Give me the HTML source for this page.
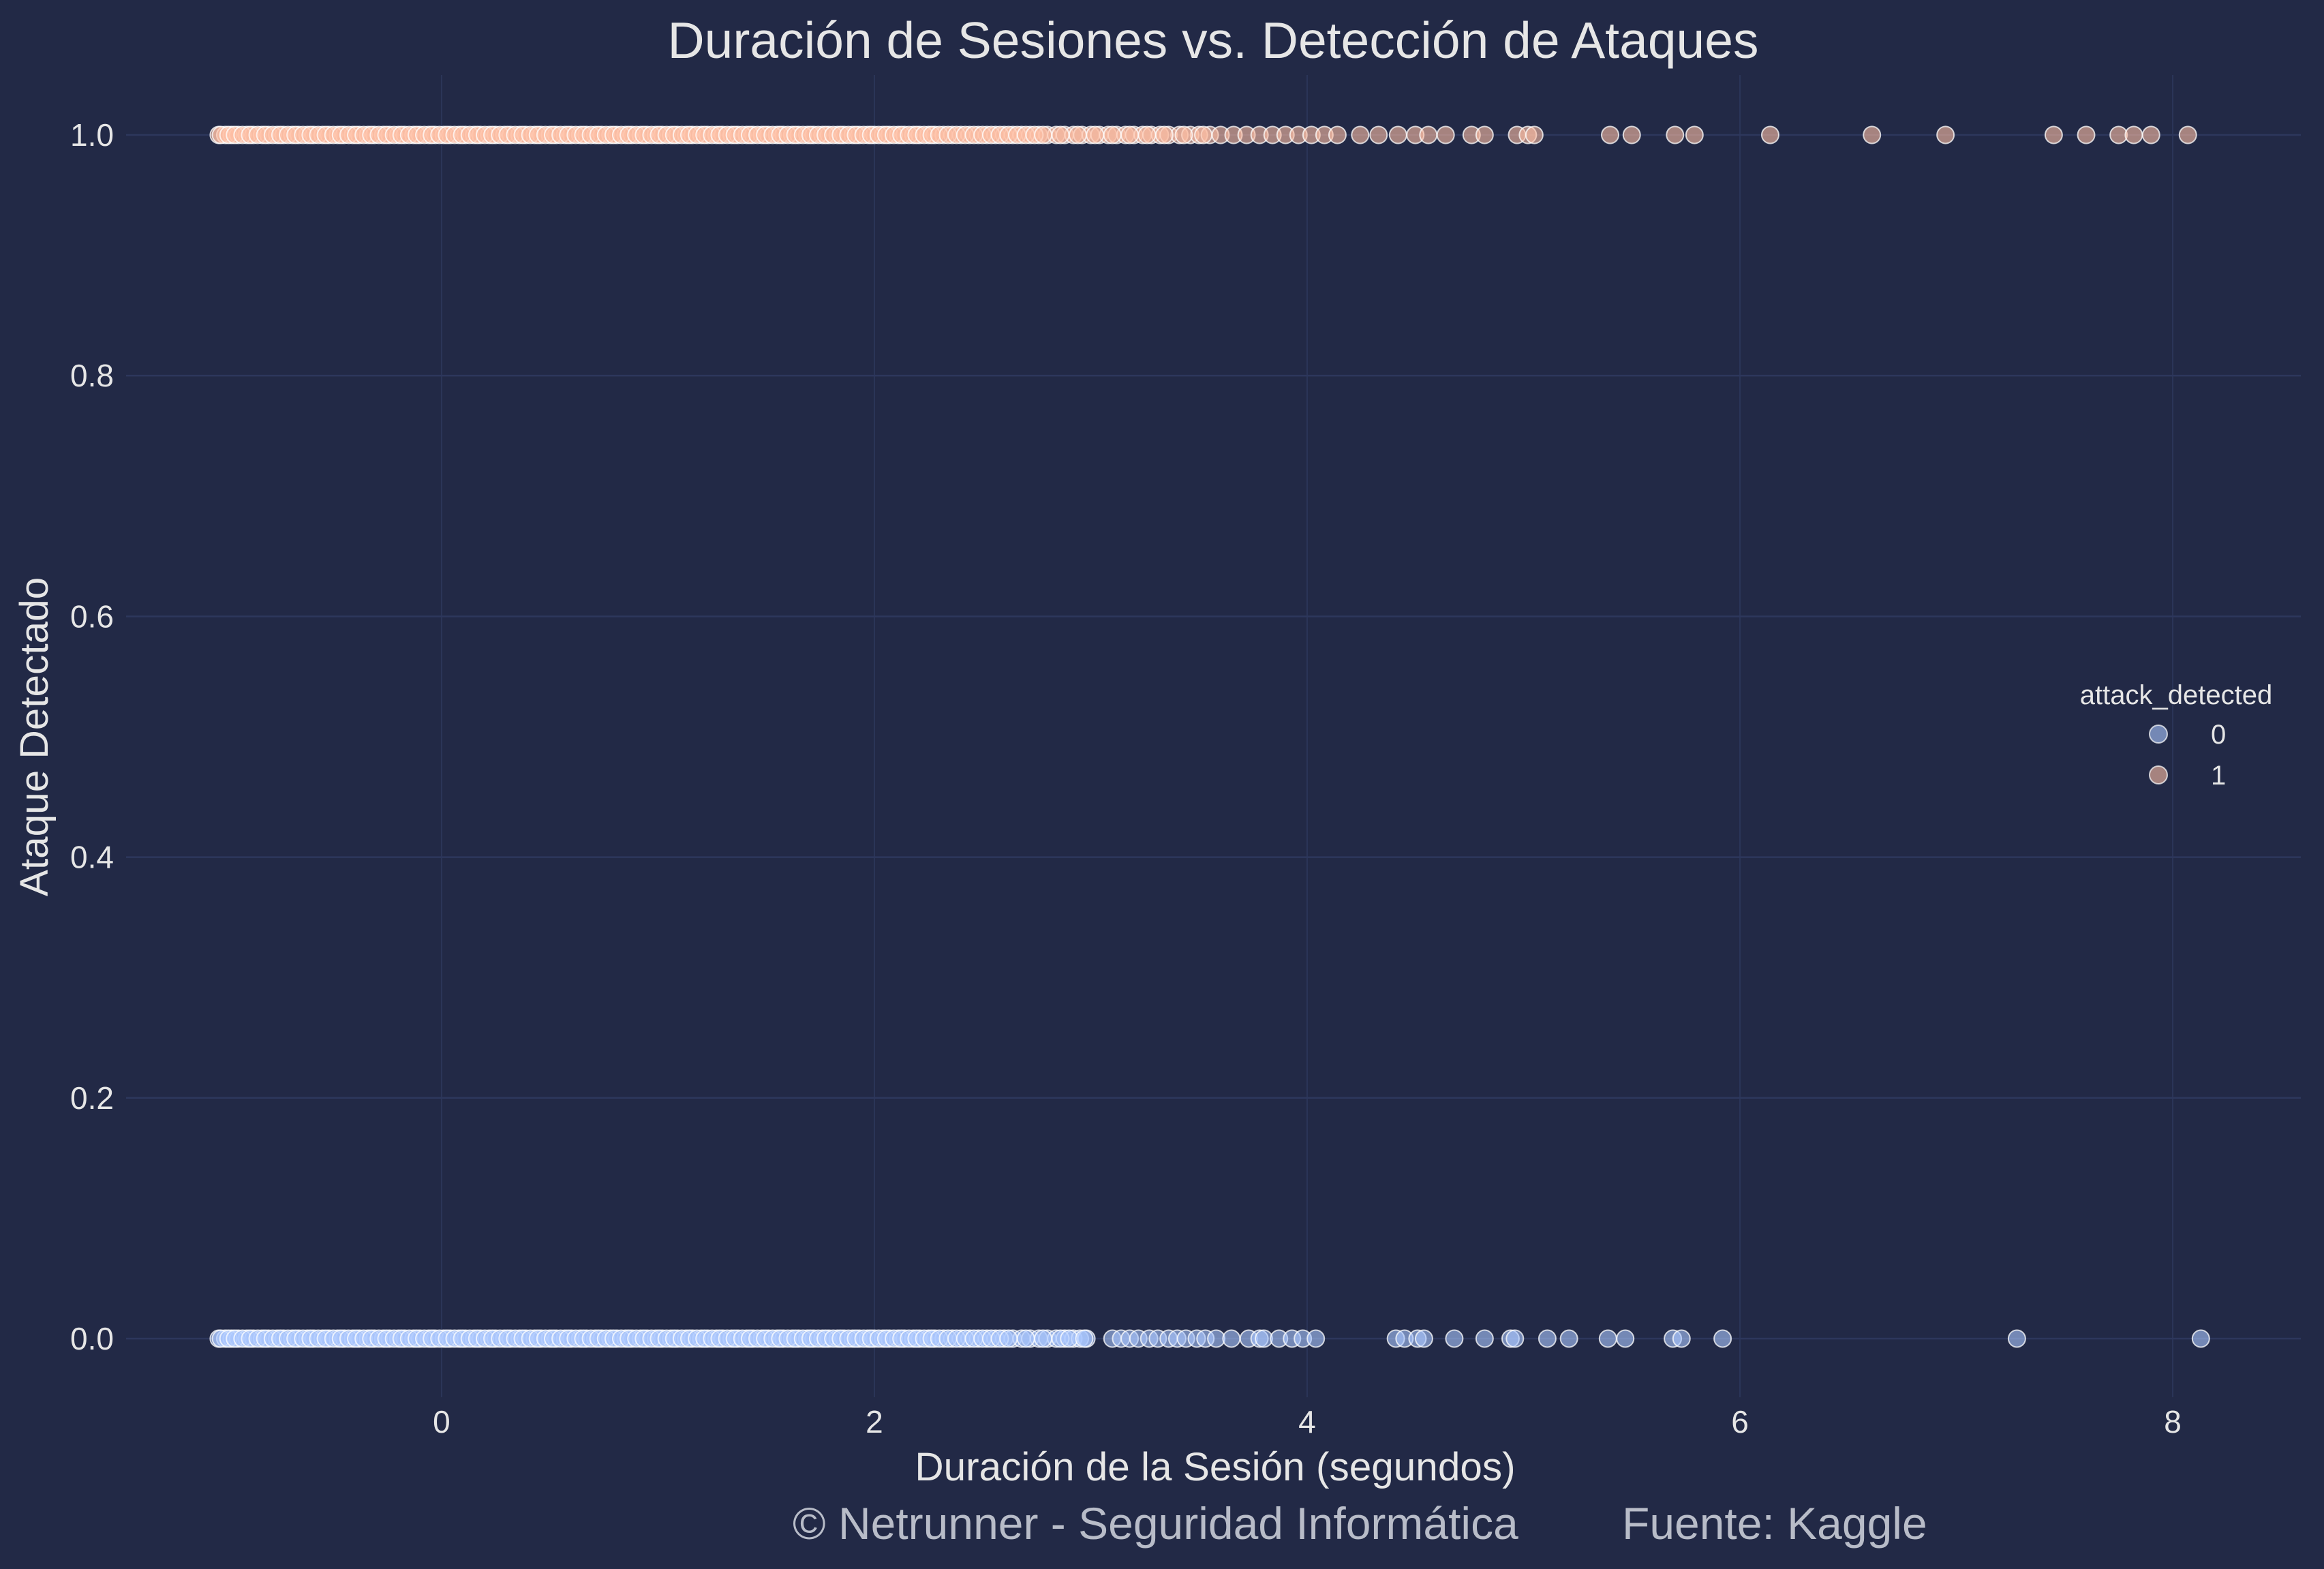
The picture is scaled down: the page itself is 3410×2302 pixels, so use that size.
<!DOCTYPE html>
<html><head><meta charset="utf-8"><style>
html,body{margin:0;padding:0;background:#222946;}
svg{display:block;font-family:"Liberation Sans",Arial,sans-serif;}
</style></head><body>
<svg id="chart" width="3410" height="2302" viewBox="0 0 3410 2302" xmlns="http://www.w3.org/2000/svg">
<rect x="0" y="0" width="3410" height="2302" fill="#222946"/>
<g id="grid"></g>
<g id="points"></g>
<g id="ticks"></g>
<text x="1780" y="85" font-size="75" fill="#e6e6e6" text-anchor="middle">Duración de Sesiones vs. Detección de Ataques</text>
<text x="1783" y="2172" font-size="58.5" fill="#e6e6e6" text-anchor="middle">Duración de la Sesión (segundos)</text>
<text x="0" y="0" font-size="58.5" fill="#e6e6e6" text-anchor="middle" transform="translate(70,1081) rotate(-90)">Ataque Detectado</text>
<text x="1163" y="2258" font-size="66" fill="#b8bcc8">© Netrunner - Seguridad Informática</text>
<text x="2380" y="2258" font-size="66" fill="#b8bcc8">Fuente: Kaggle</text>
<g>
<text x="3193" y="1033" font-size="40" fill="#e6e6e6" text-anchor="middle">attack_detected</text>
<circle cx="3167" cy="1077" r="13" fill="rgb(171,200,255)" fill-opacity="0.6" stroke="#ffffff" stroke-opacity="0.7" stroke-width="2"/>
<text x="3244" y="1091" font-size="40" fill="#e6e6e6">0</text>
<circle cx="3167" cy="1137" r="13" fill="rgb(255,192,165)" fill-opacity="0.6" stroke="#ffffff" stroke-opacity="0.7" stroke-width="2"/>
<text x="3244" y="1151" font-size="40" fill="#e6e6e6">1</text>
</g>
</svg>
<script>
const xTicks = [0, 2, 4, 6, 8];
const yTicks = [0.0, 0.2, 0.4, 0.6, 0.8, 1.0];
const yTickLabels = ["0.0", "0.2", "0.4", "0.6", "0.8", "1.0"];
const durations0 = [-1.03,-1.0,-0.97,-0.94,-0.9,-0.87,-0.83,-0.8,-0.76,-0.73,-0.69,-0.66,-0.62,-0.59,-0.55,-0.52,-0.48,-0.45,-0.41,-0.38,-0.34,-0.31,-0.27,-0.24,-0.2,-0.17,-0.13,-0.1,-0.06,-0.03,0.01,0.04,0.08,0.11,0.15,0.18,0.22,0.25,0.29,0.32,0.36,0.39,0.43,0.46,0.5,0.53,0.57,0.6,0.64,0.67,0.71,0.74,0.78,0.81,0.85,0.88,0.92,0.95,0.99,1.02,1.06,1.09,1.13,1.16,1.2,1.23,1.27,1.3,1.34,1.37,1.41,1.44,1.48,1.51,1.55,1.58,1.62,1.65,1.69,1.72,1.76,1.79,1.83,1.86,1.9,1.93,1.97,2.0,2.04,2.07,2.11,2.14,2.18,2.21,2.25,2.28,2.32,2.36,2.4,2.44,2.48,2.52,2.56,2.6,2.64,2.68,2.72,2.76,2.8,2.84,2.88,2.92,2.95,2.98,3.1,3.14,3.18,3.22,3.27,3.31,3.36,3.4,3.44,3.49,3.53,3.58,3.65,3.73,3.78,3.8,3.87,3.93,3.98,4.04,4.41,4.45,4.51,4.54,4.68,4.82,4.94,4.96,5.11,5.21,5.39,5.47,5.69,5.73,5.92,7.28,8.13,
-1.02,-0.985,-0.955,-0.92,-0.885,-0.85,-0.815,-0.78,-0.745,-0.71,-0.675,-0.64,-0.605,-0.57,-0.535,-0.5,-0.465,-0.43,-0.395,-0.36,-0.325,-0.29,-0.255,-0.22,-0.185,-0.15,-0.115,-0.08,-0.045,-0.01,0.025,0.06,0.095,0.13,0.165,0.2,0.235,0.27,0.305,0.34,0.375,0.41,0.445,0.48,0.515,0.55,0.585,0.62,0.655,0.69,0.725,0.76,0.795,0.83,0.865,0.9,0.935,0.97,1.005,1.04,1.075,1.11,1.145,1.18,1.215,1.25,1.285,1.32,1.355,1.39,1.425,1.46,1.495,1.53,1.565,1.6,1.635,1.67,1.705,1.74,1.775,1.81,1.845,1.88,1.915,1.95,1.985,2.02,2.055,2.09,2.125,2.16,2.195,2.23,2.265,2.3,2.34,2.38,2.42,2.46,2.5,2.54,2.58,2.62,2.7,2.78,2.86,2.9,2.97];
const durations1 = [-1.03,-1.0,-0.97,-0.94,-0.9,-0.87,-0.83,-0.8,-0.76,-0.73,-0.69,-0.66,-0.62,-0.59,-0.55,-0.52,-0.48,-0.45,-0.41,-0.38,-0.34,-0.31,-0.27,-0.24,-0.2,-0.17,-0.13,-0.1,-0.06,-0.03,0.01,0.04,0.08,0.11,0.15,0.18,0.22,0.25,0.29,0.32,0.36,0.39,0.43,0.46,0.5,0.53,0.57,0.6,0.64,0.67,0.71,0.74,0.78,0.81,0.85,0.88,0.92,0.95,0.99,1.02,1.06,1.09,1.13,1.16,1.2,1.23,1.27,1.3,1.34,1.37,1.41,1.44,1.48,1.51,1.55,1.58,1.62,1.65,1.69,1.72,1.76,1.79,1.83,1.86,1.9,1.93,1.97,2.0,2.04,2.07,2.11,2.14,2.18,2.21,2.25,2.28,2.32,2.36,2.4,2.44,2.48,2.52,2.56,2.6,2.64,2.68,2.72,2.76,2.8,2.84,2.88,2.92,2.96,3.0,3.04,3.08,3.12,3.16,3.2,3.24,3.28,3.32,3.36,3.41,3.46,3.5,3.55,3.6,3.66,3.72,3.78,3.84,3.9,3.96,4.02,4.08,4.14,4.245,4.33,4.42,4.5,4.56,4.64,4.76,4.82,4.97,5.02,5.05,5.4,5.5,5.7,5.79,6.14,6.61,6.95,7.45,7.6,7.75,7.82,7.9,8.07,
-1.02,-0.985,-0.955,-0.92,-0.885,-0.85,-0.815,-0.78,-0.745,-0.71,-0.675,-0.64,-0.605,-0.57,-0.535,-0.5,-0.465,-0.43,-0.395,-0.36,-0.325,-0.29,-0.255,-0.22,-0.185,-0.15,-0.115,-0.08,-0.045,-0.01,0.025,0.06,0.095,0.13,0.165,0.2,0.235,0.27,0.305,0.34,0.375,0.41,0.445,0.48,0.515,0.55,0.585,0.62,0.655,0.69,0.725,0.76,0.795,0.83,0.865,0.9,0.935,0.97,1.005,1.04,1.075,1.11,1.145,1.18,1.215,1.25,1.285,1.32,1.355,1.39,1.425,1.46,1.495,1.53,1.565,1.6,1.635,1.67,1.705,1.74,1.775,1.81,1.845,1.88,1.915,1.95,1.985,2.02,2.055,2.09,2.125,2.16,2.195,2.23,2.265,2.3,2.34,2.38,2.42,2.46,2.5,2.54,2.58,2.62,2.66,2.7,2.74,2.78,2.86,2.94,3.02,3.1,3.18,3.26,3.34,3.43,3.52];
const classes = [0, 1];

const NS = "http://www.w3.org/2000/svg";
const L = 185, R = 3376, T = 110, B = 2050;
const xMin = -1.458, xMax = 8.592, yMin = -0.0487, yMax = 1.0498;
function xs(v){ return L + (v - xMin) / (xMax - xMin) * (R - L); }
function ys(v){ return B - (v - yMin) / (yMax - yMin) * (B - T); }
function mk(tag, attrs, parent){ const e = document.createElementNS(NS, tag); for (const k in attrs) e.setAttribute(k, attrs[k]); parent.appendChild(e); return e; }

const grid = document.getElementById('grid');
const ticks = document.getElementById('ticks');
xTicks.forEach(t => {
  const ln = mk('line', {x1: xs(t), x2: xs(t), y1: T, y2: B, stroke: '#2b3558', 'stroke-width': 2}, grid);
  
  
  const tx = mk('text', {x: xs(t), y: 2102, 'font-size': 46, fill: '#e6e6e6', 'text-anchor': 'middle'}, ticks);
  tx.textContent = String(t);
  
  
});
yTicks.forEach((t, i) => {
  const ln = mk('line', {x1: L, x2: R, y1: ys(t), y2: ys(t), stroke: '#2d375c', 'stroke-width': 2.5}, grid);
  
  
  const tx = mk('text', {x: 167, y: ys(t) + 16, 'font-size': 46, fill: '#e6e6e6', 'text-anchor': 'end'}, ticks);
  tx.textContent = yTickLabels[i];
  
  
});

const pts = document.getElementById('points');
const colors = ['rgb(171,200,255)', 'rgb(255,192,165)'];
[durations0, durations1].forEach((arr, ci) => {
  arr.forEach(v => {
    const c = mk('circle', {cx: xs(v), cy: ys(classes[ci]), r: 12.5, fill: colors[ci], 'fill-opacity': 0.6, stroke: '#ffffff', 'stroke-opacity': 0.75, 'stroke-width': 2}, pts);
    
    
  });
});
</script>
</body></html>
